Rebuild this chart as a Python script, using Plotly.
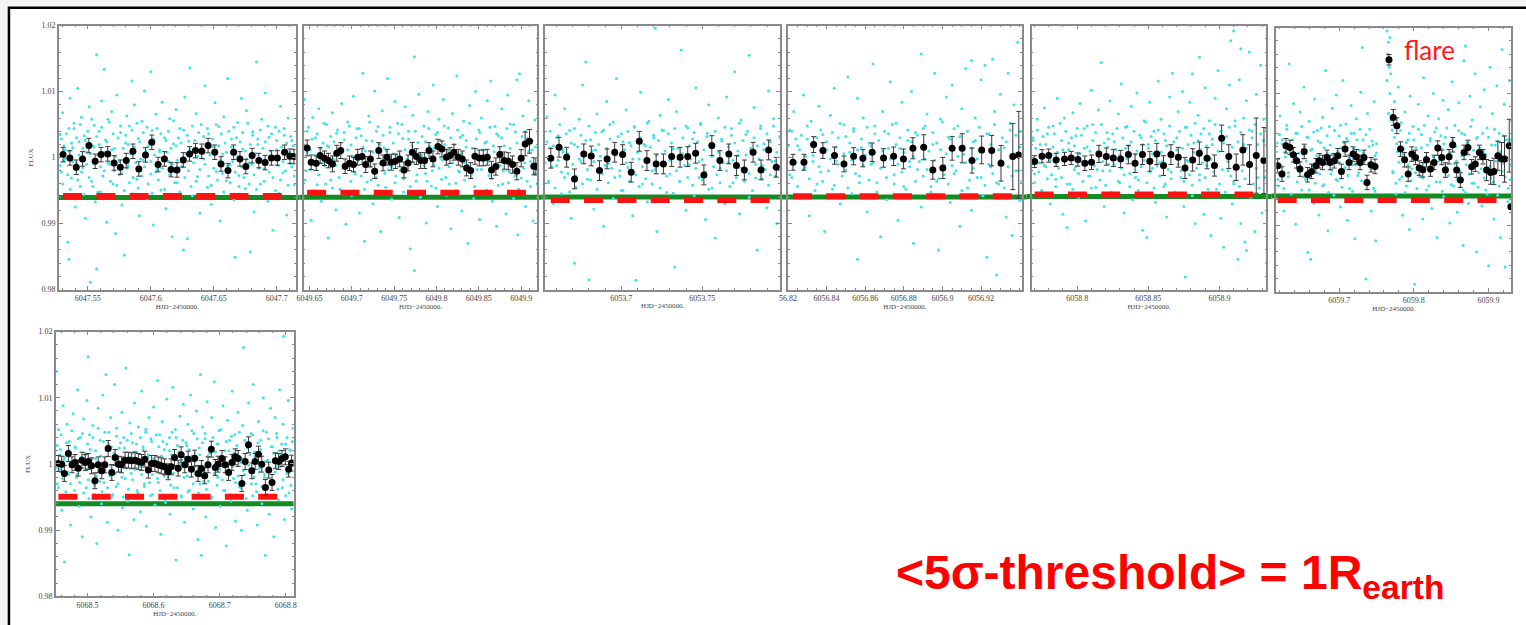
import plotly.graph_objects as go

W, H = 1526, 625

# ======================= DATA =======================
# Binned light-curve points (time HJD-2450000, relative flux, error)
P1_T = [6047.5303, 6047.5358, 6047.5408, 6047.5458, 6047.5508, 6047.5558, 6047.5605, 6047.5658, 6047.5708, 6047.5758,
        6047.5805, 6047.5858, 6047.5905, 6047.5958, 6047.6008, 6047.6058, 6047.6108, 6047.6161, 6047.6208, 6047.6258,
        6047.6308, 6047.6355, 6047.6405, 6047.6455, 6047.6508, 6047.6558, 6047.6613, 6047.6658, 6047.6708, 6047.6755,
        6047.6805, 6047.6858, 6047.6908, 6047.6958, 6047.7005, 6047.7063, 6047.7105, 6047.7137]
P1_F = [1.00045, 0.99995, 0.99854, 0.9998, 1.00182, 0.99944, 1.00045, 1.00056, 0.99919, 0.99854,
        0.99955, 1.00096, 0.99828, 1.0004, 1.00232, 0.99894, 0.9998, 0.99818, 0.99813, 0.99965,
        1.00056, 1.00106, 1.00096, 1.00182, 1.00081, 0.99904, 0.99803, 1.00081, 0.9998, 0.99864,
        1.0003, 0.99955, 0.99924, 0.99995, 0.99995, 1.00081, 1.0002, 1.00015]
P1_E = 0.0011

P2_T = [6049.6472, 6049.652, 6049.6579, 6049.6626, 6049.6677, 6049.6724, 6049.6771, 6049.6822, 6049.6869, 6049.6921,
        6049.6972, 6049.7019, 6049.707, 6049.7121, 6049.7164, 6049.7219, 6049.727, 6049.7318, 6049.7369, 6049.7416,
        6049.7467, 6049.7514, 6049.7565, 6049.7616, 6049.7664, 6049.7715, 6049.7762, 6049.7813, 6049.786, 6049.7911,
        6049.7958, 6049.8017, 6049.8064, 6049.8116, 6049.8159, 6049.8206, 6049.8257, 6049.8304, 6049.8355, 6049.8403,
        6049.8454, 6049.8505, 6049.8552, 6049.8599, 6049.865, 6049.8701, 6049.8748, 6049.88, 6049.8847, 6049.8898,
        6049.8949, 6049.9, 6049.9047, 6049.9098, 6049.9149, 6049.9173]
P2_F = [1.00146, 0.99929, 0.99914, 1.0003, 0.9999, 0.99955, 0.99904, 1.00066, 1.00106, 0.99869,
        0.99914, 0.99894, 1.00005, 1.00015, 0.99894, 0.9998, 0.99793, 1.00106, 0.99919, 1.00005,
        0.99929, 0.99944, 0.9998, 0.99813, 0.99919, 1.00081, 1.00015, 0.99955, 0.99955, 1.00106,
        0.9998, 1.00167, 1.00131, 1.00005, 1.0003, 1.00081, 1.00005, 0.9998, 0.99843, 0.99803,
        1.0002, 0.99995, 0.99995, 1.00005, 0.99813, 0.99864, 1.00045, 0.99955, 0.99944, 0.99894,
        0.99793, 0.9999, 1.00207, 1.00247, 0.99869, 0.99869]
P2_E = [0.0012, 0.0011, 0.0011, 0.0012, 0.0011, 0.0011, 0.0012, 0.0012, 0.0012, 0.0011,
        0.0011, 0.0011, 0.0012, 0.0012, 0.0012, 0.0012, 0.0011, 0.0012, 0.0012, 0.0012,
        0.0012, 0.0011, 0.0012, 0.0012, 0.0012, 0.0015, 0.0012, 0.0012, 0.0012, 0.0012,
        0.0012, 0.0011, 0.0012, 0.0012, 0.0012, 0.0012, 0.0012, 0.0012, 0.0012, 0.0012,
        0.0012, 0.0012, 0.0012, 0.0012, 0.0013, 0.0013, 0.0012, 0.0013, 0.0013, 0.0013,
        0.0013, 0.0013, 0.0018, 0.0018, 0.0013, 0.0013]

P3_T = [6053.6564, 6053.6615, 6053.6662, 6053.6711, 6053.6768, 6053.6814, 6053.6865, 6053.6912, 6053.6959, 6053.7008,
        6053.7061, 6053.7111, 6053.7158, 6053.7215, 6053.726, 6053.7311, 6053.7363, 6053.741, 6053.7459, 6053.751,
        6053.7559, 6053.7609, 6053.7664, 6053.7711, 6053.776, 6053.7814, 6053.7863, 6053.791, 6053.7957]
P3_F = [0.9999, 1.00157, 1.00005, 0.99677, 1.00056, 1.00025, 0.99803, 0.9998, 1.00081, 1.00045,
        0.99778, 1.00247, 0.99955, 0.99904, 0.99904, 1.00015, 1.00005, 1.00015, 1.00066, 0.99737,
        1.00182, 0.99955, 1.00056, 0.99879, 0.99813, 1.00081, 0.99813, 1.00116, 0.99854]
P3_E = 0.0015

P4_T = [6056.8226, 6056.8283, 6056.8333, 6056.8381, 6056.8441, 6056.849, 6056.854, 6056.8588, 6056.8636, 6056.8695,
        6056.8747, 6056.8798, 6056.8847, 6056.8903, 6056.895, 6056.9002, 6056.905, 6056.9102, 6056.9153, 6056.9203,
        6056.9255, 6056.9303, 6056.9364, 6056.9395]
P4_F = [0.99929, 0.99929, 1.00197, 1.00106, 1.0003, 0.99904, 1.0002, 0.9999, 1.00081, 0.99995,
        1.0002, 0.9998, 1.00141, 1.00157, 0.99813, 0.99843, 1.00141, 1.00141, 0.99955, 1.00116,
        1.00106, 0.99914, 1.00015, 1.0004]
P4_E = [0.0012, 0.0012, 0.0012, 0.0012, 0.0013, 0.0012, 0.0013, 0.0013, 0.0014, 0.0014,
        0.0014, 0.0015, 0.0016, 0.0019, 0.0014, 0.0016, 0.0018, 0.0022, 0.0019, 0.0021,
        0.0023, 0.0027, 0.005, 0.0066]

P5_T = [6058.7701, 6058.7753, 6058.78, 6058.7852, 6058.7911, 6058.7958, 6058.8005, 6058.8054, 6058.8101, 6058.8153,
        6058.8205, 6058.8254, 6058.8306, 6058.836, 6058.8407, 6058.8459, 6058.8511, 6058.856, 6058.8607, 6058.8659,
        6058.8711, 6058.8758, 6058.8812, 6058.8859, 6058.8913, 6058.8965, 6058.9016, 6058.9066, 6058.9118, 6058.9165,
        6058.9212, 6058.9259, 6058.9313]
P5_F = [0.99939, 1.0002, 1.0003, 0.99965, 0.9998, 0.99995, 0.9997, 0.99914, 0.99929, 1.00056,
        1.00015, 0.99995, 0.9998, 1.00045, 0.99914, 1.00045, 0.99944, 1.00056, 0.99879, 1.00045,
        1.00005, 0.99843, 0.99965, 1.00066, 0.9999, 0.99879, 1.00293, 1.00015, 0.99854, 1.00116,
        0.99894, 1.0003, 0.99955]
P5_E = [0.0009, 0.001, 0.001, 0.001, 0.001, 0.001, 0.001, 0.0011, 0.0011, 0.0013,
        0.0013, 0.0013, 0.0013, 0.0014, 0.0014, 0.0015, 0.0015, 0.0016, 0.0015, 0.0015,
        0.0015, 0.0016, 0.0017, 0.0017, 0.0016, 0.0016, 0.002, 0.0018, 0.002, 0.0023,
        0.003, 0.0057, 0.005]

P6_T = [6059.6178, 6059.6236, 6059.6289, 6059.6342, 6059.6387, 6059.6431, 6059.6476, 6059.6533, 6059.6578, 6059.6631,
        6059.6689, 6059.6733, 6059.6778, 6059.6836, 6059.688, 6059.6933, 6059.6982, 6059.7031, 6059.708, 6059.7133,
        6059.7187, 6059.7231, 6059.728, 6059.7333, 6059.7373, 6059.7427, 6059.748,
        6059.7667, 6059.7724, 6059.7773, 6059.7822, 6059.7876, 6059.7924, 6059.7973, 6059.8022, 6059.8071, 6059.812,
        6059.8169, 6059.8222, 6059.8271, 6059.832, 6059.8373, 6059.8422, 6059.8471, 6059.852, 6059.8573, 6059.8622,
        6059.8671, 6059.8724, 6059.8773, 6059.8822, 6059.8876, 6059.8924, 6059.8973, 6059.9027, 6059.9071, 6059.9124,
        6059.9173, 6059.9213, 6059.9276, 6059.9298]
P6_F = [0.99907, 0.9978, 1.0021, 1.00184, 1.00073, 0.99982, 0.99856, 1.00124, 0.9977, 0.99821,
        0.99907, 0.99982, 0.99957, 1.00033, 0.99957, 0.99982, 1.00058, 0.99821, 1.00159, 0.99957,
        1.00083, 1.00043, 0.99957, 1.00033, 0.99654, 0.99922, 0.99896,
        1.01513, 1.00639, 1.00513, 1.00159, 0.99997, 0.9978, 1.00083, 1.00033, 0.99871, 0.99846,
        0.99997, 0.99856, 0.99957, 1.00174, 1.00033, 0.99841, 1.00043, 1.00225, 0.99841, 0.99689,
        1.00109, 1.00184, 0.99891, 0.99932, 1.00109, 1.00043, 0.99841, 0.99806, 0.99821, 1.00058,
        1.00008, 1.00008, 1.0021, 0.99285]
P6_E = [0.0011, 0.0011, 0.0011, 0.0011, 0.0011, 0.0011, 0.0011, 0.0011, 0.0011, 0.0011,
        0.0011, 0.0011, 0.0011, 0.0011, 0.0011, 0.0011, 0.0011, 0.0011, 0.0011, 0.0011,
        0.0011, 0.0011, 0.0011, 0.0011, 0.0011, 0.0011, 0.0011,
        0.0008, 0.0012, 0.0012, 0.0011, 0.0011, 0.0011, 0.0011, 0.0011, 0.0011, 0.0011,
        0.0011, 0.0011, 0.0011, 0.0011, 0.0011, 0.0011, 0.0011, 0.0011, 0.0011, 0.0011,
        0.0011, 0.0011, 0.0011, 0.0011, 0.0011, 0.0011, 0.0016, 0.0018, 0.002, 0.0022,
        0.0025, 0.0035, 0.004, 0.0]

P7_T = [6068.4558, 6068.4608, 6068.4648, 6068.4709, 6068.4764, 6068.4809, 6068.4859, 6068.4915, 6068.4965, 6068.501,
        6068.506, 6068.5111, 6068.5161, 6068.5216, 6068.5261, 6068.5312, 6068.5367, 6068.5417, 6068.5467, 6068.5513,
        6068.5568, 6068.5618, 6068.5668, 6068.5719, 6068.5769, 6068.5819, 6068.5869, 6068.592, 6068.597, 6068.602,
        6068.607, 6068.6116, 6068.6166, 6068.6221, 6068.6266, 6068.6317, 6068.6372, 6068.6417, 6068.6472, 6068.6523,
        6068.6573, 6068.6623, 6068.6673, 6068.6724, 6068.6774, 6068.6824, 6068.6874, 6068.6935, 6068.6975, 6068.7035,
        6068.7085, 6068.7136, 6068.7186, 6068.7236, 6068.7281, 6068.7337, 6068.7387, 6068.7437, 6068.7487, 6068.7538,
        6068.7588, 6068.7638, 6068.7693, 6068.7744, 6068.7794, 6068.7844, 6068.7894, 6068.7945, 6068.7995, 6068.8045,
        6068.809]
P7_F = [1.00008, 0.99997, 0.99857, 1.00158, 0.99987, 1.00023, 0.99937, 1.00058, 1.00023, 1.00038,
        0.99972, 0.99746, 0.99987, 0.99897, 0.99987, 1.00234, 0.99872, 1.00098, 0.99997, 0.99987,
        1.00058, 1.00058, 1.00048, 1.00058, 1.00038, 1.00023, 1.00073, 0.99907, 1.00008, 1.00008,
        0.99987, 0.99972, 0.99957, 0.99882, 0.99957, 1.00098, 0.99937, 1.00138, 0.99987, 1.00073,
        0.99922, 1.00088, 0.99857, 0.99932, 0.99822, 0.99987, 1.00224, 0.99947, 0.99997, 1.00083,
        0.99987, 0.99872, 1.00023, 1.00108, 1.00083, 0.99706, 1.00038, 1.00289, 0.99897, 1.00038,
        1.00148, 0.99997, 0.99646, 0.99907, 0.99721, 1.00048, 1.00038, 1.00083, 1.00108, 0.99922,
        1.00013]
P7_E = 0.0012

# Unbinned photometry (cyan): (time offset in 1e-3 d from window start, flux offset in 1e-4)
CYAN_START = [6047.527, 6049.643, 6053.653, 6056.82, 6058.768, 6059.616, 6068.452]
CYAN_P1 = [(1,35),(2,-22),(3,68),(4,-5),(5,12),(6,-60),(7,-128),(8,-154),(8,44),(9,90),(10,-31),(11,15),(12,52),(13,-75),
           (14,-8),(15,105),(16,24),(17,-44),(18,61),(19,-15),(20,33),(21,-92),(22,8),(24,77),(25,-189),(26,-36),(27,18),
           (28,49),(29,-67),(30,156),(30,-169),(31,3),(32,40),(33,-52),(34,86),(36,134),(36,-20),(37,27),(38,-98),(39,58),
           (40,-10),(42,70),(43,-40),(44,14),(45,-115),(46,95),(48,-26),(49,38),(50,-72),(52,-148),(53,22),(54,63),(55,-12),
           (56,48),(58,116),(58,-55),(59,6),(60,80),(62,-33),(63,29),(64,-88),(66,55),(67,-4),(68,101),(70,-62),(71,17),
           (73,130),(73,-25),(74,41),(75,-102),(77,66),(78,-18),(80,9),(81,-49),(82,84),(84,30),(85,-77),(87,-6),(88,59),
           (90,-120),(91,21),(93,73),(94,-38),(96,44),(97,-14),(99,-140),(100,92),(102,-123),(103,25),(104,136),(106,-58),
           (107,11),(109,67),(110,-29),(112,-84),(113,50),(115,-2),(116,109),(118,-45),(119,36),(121,-71),(122,16),(124,83),
           (125,-21),(127,47),(128,-96),(130,5),(131,62),(133,-35),(134,120),(136,-11),(137,28),(139,-64),(140,-151),(142,53),
           (143,-27),(145,90),(146,13),(148,-47),(149,71),(151,-8),(152,-143),(154,39),(155,-82),(157,145),(158,20),(160,-40),
           (161,58),(163,-17),(164,98),(166,-66),(167,31),(169,-3),(170,-110),(172,46),(173,12),(175,-54),(176,78),(178,-23),
           (179,34),(181,-87),(182,60),(184,-9),(185,26),(187,-41)]
CYAN_P1_CORE = [(1,-12),(2,28),(3,-40),(4,18),(5,-2),(6,36),(7,-26),(8,10),(9,-48),(10,22),(11,-6),(12,44),(13,-18),(14,30),
           (15,-34),(16,4),(17,50),(18,-22),(19,14),(20,-56),(21,26),(22,-10),(23,40),(24,-30),(25,6),(26,58),(27,-44),(28,16),
           (29,-4),(30,32),(31,-52),(32,20),(33,-14),(34,46),(35,-28),(36,8),(37,-60),(38,24),(39,-8),(40,54),(41,-36),(42,12),
           (43,36),(44,-20),(45,2),(46,-42),(47,30),(48,-6),(49,48),(50,-24),(51,14),(52,-50),(53,34),(54,-16),(55,20),(56,-38),
           (57,6),(58,42),(59,-30),(60,16),(61,-8),(62,52),(63,-46),(64,24),(65,-2),(66,-28),(67,38),(68,-14),(69,10),(70,46),
           (71,-40),(72,22),(73,-6),(74,-54),(75,28),(76,4),(77,-22),(78,44),(79,-34),(80,12),(81,36),(82,-16),(83,-2),(84,-48),
           (85,26),(86,8),(87,40),(88,-26),(89,14),(90,-10),(91,56),(92,-38),(93,18),(94,-4),(95,30),(96,-52),(97,22),(98,-14),
           (99,42),(100,-30),(101,6),(102,34),(103,-20),(104,12),(105,-44),(106,48),(107,-8),(108,26),(109,-36),(110,2),(111,38),
           (112,-18),(113,14),(114,-56),(115,32),(116,-10),(117,20),(118,44),(119,-28),(120,4),(121,-42),(122,28),(123,-16),
           (124,10),(125,50),(126,-34),(127,18),(128,-4),(129,36),(130,-24),(131,-52),(132,22),(133,8),(134,-12),(135,40),
           (136,-38),(137,16),(138,-6),(139,46),(140,-22),(141,30),(142,2),(143,-44),(144,24),(145,-14),(146,38),(147,-30),
           (148,10),(149,-2),(150,52),(151,-40),(152,20),(153,-10),(154,34),(155,-26),(156,6),(157,-48),(158,28),(159,-16),
           (160,42),(161,-4),(162,14),(163,-36),(164,24),(165,-8),(166,48),(167,-22),(168,10),(169,36),(170,-30),(171,2),
           (172,-50),(173,26),(174,-12),(175,40),(176,-34),(177,16),(178,-6),(179,44),(180,-20),(181,22),(182,-42),(183,8),
           (184,32),(185,-14),(186,18),(187,-28)]
CYAN_P2 = [(1,88),(3,-20),(4,40),(6,-55),(8,12),(9,-95),(11,61),(13,-8),(14,30),(16,-41),(18,74),(20,5),(21,-66),(23,22),
           (25,-12),(27,50),(29,-122),(30,16),(32,-34),(34,68),(36,-3),(38,-79),(39,37),(41,9),(43,-48),(45,82),(47,-16),
           (48,27),(50,-101),(52,54),(54,-6),(56,19),(57,-58),(59,93),(61,-25),(63,44),(65,-2),(66,-84),(68,33),(70,128),
           (72,-127),(73,10),(75,-37),(77,63),(79,-14),(81,25),(82,-70),(84,101),(86,-30),(88,47),(90,-9),(91,-112),(93,71),
           (95,15),(97,-45),(99,120),(100,-19),(102,38),(104,-63),(106,6),(108,85),(109,-28),(111,52),(113,-91),(115,-4),
           (117,29),(118,-52),(120,77),(122,-17),(124,40),(126,-138),(127,11),(129,64),(131,153),(131,-171),(133,-36),(135,23),
           (136,96),(138,-60),(140,3),(142,48),(144,-24),(145,-99),(147,70),(149,17),(151,-43),(153,110),(154,-11),(156,35),
           (158,-74),(160,58),(162,-1),(163,-33),(165,88),(167,20),(169,-57),(171,45),(172,-14),(174,-108),(176,67),(178,8),
           (180,-39),(181,124),(183,-20),(185,31),(187,-81),(189,55),(190,-7),(192,26),(194,-130),(196,79),(198,-30),(199,14),
           (201,-62),(203,100),(205,-18),(207,42),(208,-94),(210,60),(212,-5),(214,22),(216,-49),(217,86),(219,-27),(221,116),
           (223,-66),(225,9),(226,47),(228,-104),(230,33),(232,-12),(234,74),(235,-40),(237,18),(239,-85),(241,95),(243,-22),
           (244,51),(246,-3),(248,-62),(250,39),(252,118),(253,-117),(255,127),(257,-31),(259,63),(261,-8),(262,-74),(264,29),
           (266,86),(268,-44),(270,12),(271,-96),(273,57),(275,-15)]
CYAN_P2_CORE = [(0,20),(2,-34),(4,8),(6,46),(8,-18),(10,28),(12,-50),(14,4),(16,36),(18,-26),(20,14),(22,-8),(24,52),(26,-40),
           (28,18),(30,-2),(32,32),(34,-46),(36,24),(38,-12),(40,42),(42,-30),(44,6),(46,-56),(48,38),(50,-16),(52,12),(54,48),
           (56,-36),(58,2),(60,-22),(62,30),(64,-4),(66,44),(68,-28),(70,16),(72,-48),(74,26),(76,-10),(78,54),(80,-34),(82,8),
           (84,-18),(86,40),(88,-42),(90,20),(92,-6),(94,34),(96,-24),(98,10),(100,-52),(102,46),(104,-14),(106,22),(108,-38),
           (110,4),(112,36),(114,-20),(116,50),(118,-32),(120,12),(122,-2),(124,28),(126,-44),(128,18),(130,-8),(132,40),
           (134,-26),(136,6),(138,-54),(140,32),(142,-12),(144,24),(146,-36),(148,44),(150,2),(152,-20),(154,14),(156,-46),
           (158,38),(160,-16),(162,26),(164,-4),(166,48),(168,-30),(170,10),(172,-40),(174,30),(176,-8),(178,20),(180,-50),
           (182,42),(184,-22),(186,6),(188,34),(190,-34),(192,16),(194,-12),(196,52),(198,-26),(200,4),(202,-44),(204,28),
           (206,-2),(208,38),(210,-18),(212,12),(214,-56),(216,24),(218,-6),(220,46),(222,-32),(224,18),(226,-14),(228,36),
           (230,-42),(232,8),(234,30),(236,-20),(238,-4),(240,44),(242,-38),(244,14),(246,-10),(248,50),(250,-28),(252,22),
           (254,-48),(256,2),(258,32),(260,-16),(262,40),(264,-36),(266,10),(268,-6),(270,26),(272,-24),(274,16),(276,-40)]
CYAN_P3 = [(1,62),(2,-38),(3,15),(5,-70),(6,95),(7,-12),(8,33),(10,-55),(11,8),(12,74),(14,-24),(15,41),(16,-92),(18,-160),
           (18,20),(19,-45),(21,58),(22,-6),(23,110),(25,145),(26,-33),(27,-185),(28,27),(30,-78),(31,12),(32,66),(34,-18),
           (35,39),(36,-104),(38,85),(39,-9),(40,50),(42,-62),(43,4),(44,120),(46,-28),(47,36),(48,-50),(50,72),(51,-15),
           (52,23),(54,-88),(55,47),(56,-186),(58,-2),(59,99),(60,-40),(62,18),(63,-67),(64,55),(66,-20),(67,30),(68,196),
           (69,-112),(71,64),(72,-7),(73,41),(75,-53),(76,88),(77,-25),(79,13),(80,-166),(81,70),(83,-36),(84,163),(85,6),
           (87,-80),(88,45),(89,-11),(91,28),(92,-58),(93,106),(95,-30),(96,52),(97,-3),(99,-94),(100,37),(101,80),(103,-46),
           (104,16),(105,-122),(107,60),(108,-16),(109,25),(111,-70),(112,92),(113,-8),(115,44),(116,-38),(117,130),(119,3),
           (120,-85),(121,57),(123,-22),(124,35),(126,155),(126,-60),(127,10),(129,76),(130,-31),(131,-140),(133,48),(134,-12),
           (135,21),(137,-76),(138,101),(139,-26),(141,59),(142,-5),(143,-100),(145,30)]
CYAN_P3_CORE = [(0,-8),(1,24),(2,-36),(3,40),(4,-14),(5,18),(6,-46),(7,30),(8,-4),(9,50),(10,-22),(11,12),(12,-30),(13,36),
           (14,6),(15,-52),(16,22),(17,-10),(18,44),(19,-28),(20,16),(21,-2),(22,34),(23,-40),(24,8),(25,26),(26,-18),(27,48),
           (28,-34),(29,10),(30,-6),(31,38),(32,-48),(33,20),(34,2),(35,-24),(36,42),(37,-12),(38,14),(39,-38),(40,28),(41,-16),
           (42,54),(43,-30),(44,4),(45,32),(46,-20),(47,-50),(48,24),(49,12),(50,-8),(51,40),(52,-36),(53,18),(54,-2),(55,46),
           (56,-26),(57,8),(58,-44),(59,30),(60,-14),(61,20),(62,-32),(63,52),(64,-6),(65,16),(66,-40),(67,34),(68,-18),(69,4),
           (70,26),(71,-46),(72,42),(73,-10),(74,10),(75,-28),(76,36),(77,-4),(78,22),(79,-54),(80,44),(81,-20),(82,14),(83,-36),
           (84,6),(85,30),(86,-12),(87,48),(88,-30),(89,18),(90,-2),(91,-42),(92,38),(93,-16),(94,24),(95,-6),(96,50),(97,-34),
           (98,12),(99,-22),(100,32),(101,-48),(102,20),(103,2),(104,-14),(105,40),(106,-26),(107,8),(108,-38),(109,28),(110,-8),
           (111,46),(112,-20),(113,16),(114,-44),(115,34),(116,-4),(117,22),(118,-30),(119,10),(120,52),(121,-16),(122,26),
           (123,-36),(124,4),(125,40),(126,-24),(127,14),(128,-50),(129,30),(130,-10),(131,18),(132,-2),(133,44),(134,-32),
           (135,12),(136,-18),(137,36),(138,-42),(139,24),(140,-6),(141,48),(142,-28),(143,8),(144,-14),(145,32)]
CYAN_P4 = [(1,42),(2,-30),(3,70),(4,-8),(5,18),(7,-60),(8,95),(9,-15),(10,28),(11,-88),(12,55),(13,3),(15,-40),(16,78),
           (17,-22),(18,35),(19,-112),(20,12),(22,64),(23,-48),(24,105),(25,-5),(26,30),(27,-70),(29,50),(30,-19),(31,122),
           (32,8),(33,-55),(34,40),(36,-154),(36,90),(37,-28),(38,15),(39,60),(41,-82),(42,22),(43,-10),(44,142),(45,48),
           (46,-38),(48,-120),(49,70),(50,2),(51,-64),(52,36),(53,115),(55,-26),(56,52),(57,-95),(58,14),(59,84),(60,-44),
           (62,26),(63,-6),(64,100),(65,-130),(66,38),(67,-18),(69,157),(69,-75),(70,44),(71,-2),(72,66),(74,-52),(75,20),
           (76,128),(77,-36),(78,-140),(79,58),(81,-12),(82,92),(83,31),(84,-68),(85,110),(86,-24),(88,48),(89,-104),(90,74),
           (91,5),(92,135),(93,-46),(95,147),(95,-80),(96,24),(97,60),(98,-30),(100,118),(101,-58),(102,140),(103,-151),
           (104,36),(105,-14),(106,149),(107,70),(108,-178),(109,-40),(110,96),(112,15),(113,-90),(114,128),(115,52),
           (116,-118),(117,80),(118,-20),(119,175),(120,40),(120,-65)]
CYAN_P4_CORE = [(0,18),(1,-26),(2,40),(3,-8),(4,28),(5,-44),(6,12),(7,34),(8,-18),(9,2),(10,48),(11,-32),(12,20),(13,-6),
           (14,-50),(15,30),(16,-14),(17,42),(18,-36),(19,8),(20,24),(21,-20),(22,-2),(23,38),(24,-42),(25,16),(26,-10),(27,52),
           (28,-28),(29,6),(30,32),(31,-46),(32,22),(33,-4),(34,44),(35,-24),(36,12),(37,-38),(38,28),(39,-12),(40,4),(41,46),
           (42,-34),(43,18),(44,-8),(45,36),(46,-52),(47,26),(48,-16),(49,10),(50,40),(51,-30),(52,14),(53,-2),(54,50),(55,-40),
           (56,20),(57,-10),(58,30),(59,-22),(60,8),(61,-48),(62,42),(63,-14),(64,24),(65,2),(66,-36),(67,34),(68,-6),(69,16),
           (70,-28),(71,48),(72,-18),(73,10),(74,-44),(75,38),(76,-4),(77,22),(78,-32),(79,12),(80,54),(81,-26),(82,6),(83,-40),
           (84,28),(85,-12),(86,44),(87,-20),(88,2),(89,32),(90,-50),(91,18),(92,-8),(93,40),(94,-34),(95,14),(96,-16),(97,26),
           (98,-2),(99,46),(100,-30),(101,8),(102,-42),(103,36),(104,-10),(105,20),(106,-24),(107,50),(108,-38),(109,12),
           (110,-4),(111,30),(112,-46),(113,24),(114,-14),(115,42),(116,-28),(117,6),(118,34),(119,-20),(120,16),(121,-36)]
CYAN_P5 = [(1,30),(2,-25),(4,58),(5,-8),(6,20),(7,-52),(9,75),(10,-14),(11,36),(13,-70),(14,5),(15,48),(17,-33),(18,90),
           (19,-3),(21,26),(22,-86),(23,60),(25,-106),(26,12),(27,-40),(29,68),(30,-18),(31,33),(33,-60),(34,82),(35,-6),
           (37,44),(38,-96),(39,16),(41,-28),(42,102),(43,50),(45,-45),(46,9),(47,72),(49,144),(50,-20),(51,-74),(53,38),
           (54,-10),(55,86),(57,-56),(58,24),(59,-2),(61,66),(62,-38),(63,112),(65,-84),(66,14),(67,47),(69,-24),(70,78),
           (71,-64),(73,5),(74,98),(75,-34),(77,30),(78,-110),(79,56),(81,-121),(82,20),(83,84),(85,-16),(86,40),(87,-68),
           (89,116),(90,-8),(91,58),(93,-44),(94,26),(95,-90),(97,92),(98,-22),(99,128),(101,-52),(102,12),(103,70),(105,-30),
           (106,100),(107,-74),(108,-181),(109,46),(110,-6),(111,84),(113,127),(113,-58),(114,22),(115,-100),(117,64),(118,152),
           (118,-26),(119,36),(121,-86),(122,106),(123,-12),(125,56),(126,-118),(127,20),(129,90),(130,-48),(131,132),(133,-92),
           (134,30),(135,-136),(137,74),(138,-20),(139,110),(140,177),(141,-70),(142,192),(142,-40),(143,48),(145,-154),
           (146,118),(147,165),(147,-100),(149,20),(150,-128),(151,86),(151,-141),(153,160),(154,-60),(155,40),(157,-112),
           (158,96),(159,-30),(161,140),(162,-84),(163,58),(165,-20)]
CYAN_P5_CORE = [(0,-10),(1,26),(2,-38),(3,14),(4,42),(5,-22),(6,4),(7,-50),(8,32),(9,-12),(10,20),(11,-32),(12,46),(13,-4),
           (14,-26),(15,16),(16,36),(17,-44),(18,8),(19,-16),(20,52),(21,-30),(22,12),(23,-6),(24,40),(25,-40),(26,22),(27,-2),
           (28,30),(29,-48),(30,18),(31,-14),(32,44),(33,-24),(34,6),(35,34),(36,-36),(37,14),(38,-8),(39,48),(40,-28),(41,10),
           (42,-46),(43,26),(44,-12),(45,38),(46,-18),(47,2),(48,-34),(49,50),(50,-6),(51,22),(52,-42),(53,16),(54,28),(55,-20),
           (56,-52),(57,36),(58,-10),(59,12),(60,44),(61,-36),(62,4),(63,-16),(64,30),(65,-26),(66,46),(67,-2),(68,18),(69,-44),
           (70,24),(71,-8),(72,40),(73,-30),(74,10),(75,-50),(76,34),(77,-14),(78,20),(79,-4),(80,54),(81,-38),(82,14),(83,-22),
           (84,32),(85,6),(86,-46),(87,26),(88,-12),(89,42),(90,-28),(91,8),(92,-6),(93,36),(94,-40),(95,18),(96,-18),(97,48),
           (98,-32),(99,2),(100,24),(101,-54),(102,30),(103,-10),(104,40),(105,-20),(106,14),(107,-36),(108,46),(109,-4),
           (110,20),(111,-26),(112,34),(113,-42),(114,8),(115,52),(116,-16),(117,26),(118,-34),(119,12),(120,-8),(121,44),
           (122,-30),(123,18),(124,-48),(125,36),(126,-2),(127,28),(128,-22),(129,50),(130,-12),(131,10),(132,-40),(133,40),
           (134,-18),(135,22),(136,-52),(137,32),(138,-6),(139,46),(140,-28),(141,16),(142,-36),(143,56),(144,-10),(145,24),
           (146,-44),(147,38),(148,-20),(149,60),(150,-32),(151,14),(152,-56),(153,42),(154,-8),(155,30),(156,-40),(157,50),
           (158,-16),(159,20),(160,-46),(161,36),(162,-2),(163,26),(164,-30),(165,44)]
CYAN_P6 = [(1,25),(3,-40),(5,66),(7,-10),(8,30),(10,-78),(12,12),(14,52),(16,-26),(17,145),(19,-60),(21,20),(23,85),(25,-4),
           (26,-98),(28,40),(30,-18),(32,72),(34,-46),(35,8),(37,110),(39,-30),(41,34),(42,-141),(44,58),(46,-151),(48,16),
           (50,-66),(51,92),(53,-12),(55,44),(57,-84),(59,26),(60,-2),(62,64),(64,-38),(66,135),(68,10),(69,-108),(71,50),
           (73,-22),(75,78),(77,-54),(78,4),(80,98),(82,-32),(84,36),(86,-72),(87,18),(89,120),(91,-14),(93,54),(95,-92),
           (96,28),(98,-44),(100,82),(102,-8),(104,40),(105,-120),(107,62),(109,-24),(111,14),(113,102),(114,-60),(115,170),
           (116,30),(118,-36),(120,-181),(122,70),(123,-6),(125,46),(127,-78),(129,22),(131,88),(132,-48),(133,-123),(134,10),
           (148,195),(148,120),(149,160),(150,178),(150,70),(151,140),(152,100),(152,185),(153,60),(153,130),
           (155,45),(156,-20),(158,88),(160,-52),(161,24),(163,110),(165,-30),(167,56),(169,-84),(170,8),(172,72),(174,-40),
           (176,30),(178,-106),(179,96),(181,-14),(183,50),(185,-189),(187,18),(188,-64),(190,84),(192,-26),(194,38),(196,-90),
           (197,124),(199,4),(201,-46),(203,66),(205,-18),(206,28),(208,-74),(210,100),(212,-8),(214,48),(215,-118),(217,62),
           (219,-34),(221,16),(223,90),(224,-56),(226,34),(228,-12),(230,76),(232,-96),(233,20),(235,118),(237,-40),(239,52),
           (241,-2),(242,-80),(244,86),(246,-24),(248,40),(250,-130),(251,150),(253,172),(253,-50),(255,26),(257,-66),(259,96),
           (260,-10),(262,60),(264,-36),(266,130),(268,-140),(269,34),(271,-20),(273,80),(275,-70),(277,12),(278,106),(280,-46),
           (282,48),(284,-161),(286,140),(287,-28),(289,70),(291,-90),(293,22),(295,112),(296,-54),(298,40),(300,-118),
           (302,167),(304,-6),(305,84),(306,-163),(308,30),(310,-64),(312,120),(313,-30)]
CYAN_P6_CORE = [(0,12),(2,-30),(4,38),(6,-8),(8,24),(10,-44),(12,4),(14,46),(16,-20),(18,16),(20,-52),(22,30),(24,-4),(26,40),
           (28,-34),(30,10),(32,-14),(34,50),(36,-26),(38,20),(40,-2),(42,34),(44,-46),(46,14),(48,-10),(50,42),(52,-36),(54,6),
           (56,28),(58,-22),(60,48),(62,-40),(64,18),(66,-6),(68,36),(70,-50),(72,22),(74,-16),(76,8),(78,44),(80,-30),(82,12),
           (84,-4),(86,52),(88,-42),(90,26),(92,-12),(94,32),(96,-24),(98,2),(100,40),(102,-48),(104,16),(106,-8),(108,30),
           (110,-20),(112,46),(114,-32),(116,10),(118,-2),(120,38),(122,-38),(124,20),(126,-14),(128,28),(130,-44),(132,6),
           (134,24),(156,-18),(158,34),(160,-36),(162,12),(164,-4),(166,44),(168,-26),(170,16),(172,-50),(174,26),(176,-8),
           (178,40),(180,-32),(182,8),(184,30),(186,-20),(188,-44),(190,46),(192,-10),(194,18),(196,-28),(198,52),(200,-6),
           (202,22),(204,-40),(206,32),(208,-16),(210,4),(212,42),(214,-34),(216,14),(218,-2),(220,36),(222,-48),(224,24),
           (226,-12),(228,48),(230,-24),(232,10),(234,-38),(236,30),(238,-6),(240,20),(242,-30),(244,44),(246,-18),(248,6),
           (250,-46),(252,38),(254,-8),(256,26),(258,-22),(260,50),(262,-36),(264,14),(266,-4),(268,32),(270,-42),(272,18),
           (274,-14),(276,40),(278,-28),(280,8),(282,-52),(284,34),(286,-10),(288,22),(290,-34),(292,46),(294,-2),(296,28),
           (298,-40),(300,12),(302,-18),(304,36),(306,-26),(308,4),(310,-44),(312,30),(314,-8)]
CYAN_P7 = [(0,140),(2,-30),(4,52),(6,-8),(7,22),(9,-70),(11,88),(13,-148),(13,10),(15,-42),(17,60),(19,-16),(20,34),(22,-92),
           (24,4),(26,76),(28,-52),(29,26),(31,-20),(33,112),(35,-64),(37,40),(38,-6),(40,-110),(42,68),(44,14),(46,-36),
           (47,96),(49,162),(49,-24),(51,44),(53,-80),(55,8),(56,58),(58,-46),(60,20),(62,-120),(64,84),(65,-12),(67,36),
           (69,-60),(71,104),(73,-28),(74,48),(76,135),(76,-2),(78,-88),(80,30),(82,-18),(83,70),(85,-50),(87,12),(89,120),
           (91,-34),(92,54),(94,-100),(96,24),(98,-10),(100,78),(101,-66),(103,40),(105,-22),(106,145),(107,6),(109,-56),
           (111,-137),(112,62),(114,-14),(116,32),(118,-84),(119,92),(121,18),(123,-40),(125,56),(127,-4),(128,-72),(130,110),
           (132,26),(134,-30),(136,48),(137,-94),(139,10),(141,70),(143,-48),(145,34),(146,-16),(148,86),(150,-62),(152,4),
           (154,126),(155,-28),(157,44),(159,-106),(161,64),(163,-8),(164,22),(166,-58),(168,98),(170,-20),(172,40),(173,-76),
           (175,14),(177,116),(179,-36),(181,52),(182,-145),(184,28),(186,-10),(188,72),(190,-50),(191,6),(193,90),(195,-88),
           (197,32),(199,-18),(200,60),(202,-40),(204,104),(206,12),(208,-68),(209,46),(211,-4),(213,80),(215,-114),(217,24),
           (218,-30),(219,135),(220,-138),(222,56),(224,-12),(226,38),(227,-80),(229,94),(231,-26),(233,16),(235,-52),(236,70),
           (238,-6),(240,124),(242,-96),(244,30),(245,-20),(247,50),(249,-64),(251,8),(253,88),(254,-40),(256,20),(258,-124),
           (260,66),(262,-10),(263,36),(265,-56),(267,110),(269,-22),(271,44),(272,-86),(274,14),(276,78),(278,-34),(280,2),
           (281,-100),(283,58),(284,176),(286,-16),(288,30),(290,-70),(292,92),(294,-8),(296,46),(298,-48),(299,120),(301,18),
           (303,-30),(305,-92),(307,64),(308,-12),(310,36),(312,-60),(314,100),(316,-20),(317,-138),(319,48),(321,6),(323,-76),
           (325,84),(326,-28),(328,26),(330,-110),(332,70),(334,-4),(335,40),(337,-54),(339,112),(341,14),(343,-36),(344,60),
           (345,193),(346,-84),(348,30),(350,-14),(352,96),(353,-44),(355,20),(357,-68),(359,54)]
CYAN_P7_CORE = [(0,-6),(2,28),(4,-36),(6,14),(8,44),(10,-22),(12,6),(14,-48),(16,32),(18,-12),(20,20),(22,-30),(24,50),(26,-2),
           (28,-40),(30,24),(32,-16),(34,38),(36,-28),(38,10),(40,46),(42,-44),(44,16),(46,-8),(48,30),(50,-52),(52,22),(54,-4),
           (56,40),(58,-32),(60,8),(62,-18),(64,54),(66,-26),(68,12),(70,-42),(72,34),(74,-10),(76,20),(78,-36),(80,48),(82,-2),
           (84,26),(86,-46),(88,16),(90,-14),(92,42),(94,-30),(96,4),(98,32),(100,-20),(102,-50),(104,24),(106,-6),(108,36),
           (110,-38),(112,10),(114,46),(116,-24),(118,18),(120,-8),(122,30),(124,-44),(126,2),(128,40),(130,-16),(132,22),
           (134,-34),(136,52),(138,-12),(140,14),(142,-28),(144,38),(146,-46),(148,8),(150,-4),(152,44),(154,-22),(156,26),
           (158,-40),(160,12),(162,34),(164,-18),(166,-54),(168,30),(170,-8),(172,20),(174,-32),(176,48),(178,-14),(180,6),
           (182,40),(184,-36),(186,18),(188,-2),(190,-48),(192,36),(194,-20),(196,10),(198,28),(200,-42),(202,22),(204,-10),
           (206,50),(208,-30),(210,4),(212,-16),(214,38),(216,-44),(218,14),(220,-6),(222,32),(224,-26),(226,46),(228,-38),
           (230,12),(232,-2),(234,24),(236,-50),(238,40),(240,-14),(242,18),(244,-32),(246,30),(248,-8),(250,52),(252,-24),
           (254,6),(256,-40),(258,34),(260,-12),(262,20),(264,-46),(266,42),(268,-4),(270,16),(272,-28),(274,28),(276,-18),
           (278,48),(280,-36),(282,8),(284,-10),(286,36),(288,-52),(290,24),(292,-2),(294,14),(296,-30),(298,44),(300,-20),
           (302,10),(304,-42),(306,32),(308,-6),(310,22),(312,-34),(314,50),(316,-16),(318,4),(320,-46),(322,38),(324,-8),
           (326,26),(328,-28),(330,16),(332,-12),(334,46),(336,-38),(338,20),(340,-4),(342,30),(344,-24),(346,10),(348,-48),
           (350,40),(352,-14),(354,22),(356,-32),(358,34),(360,-2)]

# Detection thresholds per window (relative flux)
GREEN_LEVEL = [0.99394, 0.99398, 0.99402, 0.99402, 0.99412, 0.99447, 0.99399]   # solid green
RED_LEVEL = [0.99417, 0.99467, 0.99356, 0.99414, 0.99442, 0.99386, 0.99505]     # dashed red

# Axes
X_RANGE = [(6047.527, 6047.715), (6049.643, 6049.919), (6053.653, 6053.798), (6056.82, 6056.941),
           (6058.768, 6058.933), (6059.616, 6059.93), (6068.452, 6068.812)]
X_TICKS = [[6047.55, 6047.6, 6047.65, 6047.7],
           [6049.65, 6049.7, 6049.75, 6049.8, 6049.85, 6049.9],
           [6053.7, 6053.75],
           [6056.82, 6056.84, 6056.86, 6056.88, 6056.9, 6056.92],
           [6058.8, 6058.85, 6058.9],
           [6059.7, 6059.8, 6059.9],
           [6068.5, 6068.6, 6068.7, 6068.8]]
X_TICKTEXT = [["6047.55", "6047.6", "6047.65", "6047.7"],
              ["6049.65", "6049.7", "6049.75", "6049.8", "6049.85", "6049.9"],
              ["6053.7", "6053.75"],
              ["56.82", "6056.84", "6056.86", "6056.88", "6056.9", "6056.92"],
              ["6058.8", "6058.85", "6058.9"],
              ["6059.7", "6059.8", "6059.9"],
              ["6068.5", "6068.6", "6068.7", "6068.8"]]
X_MINOR = [0.01, 0.01, 0.01, 0.005, 0.01, 0.02, 0.02]
Y_RANGE = (0.98, 1.02)
Y_TICKS = [0.98, 0.99, 1.0, 1.01, 1.02]
Y_TICKTEXT = ["0.98", "0.99", "1", "1.01", "1.02"]
X_TITLE = "HJD\u22122450000."
Y_TITLE = "FLUX"
FLARE_LABEL = "flare"
MAIN_LABEL = "<b>&lt;5\u03c3-threshold&gt; = 1R<sub>earth</sub></b>"

# ======================= LAYOUT (target pixel boxes on the picture) =======================
BOX = [(58, 295, 25, 289), (303, 537, 25, 289), (545, 780, 25, 289), (788, 1022, 25, 289),
       (1032, 1267, 25, 289), (1277, 1512, 27, 291), (55, 293, 331, 596)]
GREEN_SPAN = [(58, 299), (299, 541), (541, 784), (784, 1027), (1027, 1272), (1272, 1512), (55, 293)]

# the captured picture is slightly offset/scaled relative to the page; compensate
AX, BX = 0.9934, 8.05
AY, BY = 0.986, 3.35


def fx(px):   # target picture x (px) -> paper fraction
    return ((px - BX) / AX) / W


def fy(py):   # target picture y (px, from top) -> paper fraction
    return 1 - ((py - BY) / AY) / H


panels = [
    dict(t=P1_T, f=P1_F, e=P1_E, cyan=CYAN_P1 + CYAN_P1_CORE),
    dict(t=P2_T, f=P2_F, e=P2_E, cyan=CYAN_P2 + CYAN_P2_CORE),
    dict(t=P3_T, f=P3_F, e=P3_E, cyan=CYAN_P3 + CYAN_P3_CORE),
    dict(t=P4_T, f=P4_F, e=P4_E, cyan=CYAN_P4 + CYAN_P4_CORE),
    dict(t=P5_T, f=P5_F, e=P5_E, cyan=CYAN_P5 + CYAN_P5_CORE),
    dict(t=P6_T, f=P6_F, e=P6_E, cyan=CYAN_P6 + CYAN_P6_CORE),
    dict(t=P7_T, f=P7_F, e=P7_E, cyan=CYAN_P7 + CYAN_P7_CORE),
]

fig = go.Figure()
shapes = [dict(type="rect", xref="paper", yref="paper", x0=fx(8), x1=1.2, y0=-0.2, y1=fy(7),
               line=dict(color="black", width=2.5), fillcolor="white", layer="below")]
layout_axes = {}
tick_font = dict(family="Liberation Serif, DejaVu Serif, serif", size=8, color="#444444")
title_font = dict(family="Liberation Serif, DejaVu Serif, serif", size=7, color="#444444")

for i, p in enumerate(panels):
    n = i + 1
    sfx = "" if n == 1 else str(n)
    xa, ya = "x" + sfx, "y" + sfx
    base = CYAN_START[i]

    fig.add_trace(go.Scatter(
        x=[base + dt * 1e-3 for dt, _ in p["cyan"]],
        y=[1 + df * 1e-4 for _, df in p["cyan"]],
        mode="markers", marker=dict(size=3.0, color="#3fe3ea"),
        xaxis=xa, yaxis=ya, hoverinfo="skip", showlegend=False))

    fig.add_trace(go.Scatter(
        x=[p["t"][0], p["t"][-1]], y=[RED_LEVEL[i], RED_LEVEL[i]],
        mode="lines", line=dict(color="#ff1212", width=6, dash="19px,14.3px"),
        xaxis=xa, yaxis=ya, hoverinfo="skip", showlegend=False))

    if isinstance(p["e"], list):
        err = dict(type="data", array=p["e"], visible=True, color="#3a3a3a", thickness=1, width=2.5)
    else:
        err = dict(type="constant", value=p["e"], visible=True, color="#3a3a3a", thickness=1, width=2.5)
    fig.add_trace(go.Scatter(
        x=p["t"], y=p["f"], mode="markers", marker=dict(size=7, color="black"),
        error_y=err, xaxis=xa, yaxis=ya, hoverinfo="skip", showlegend=False))

    gx0, gx1 = GREEN_SPAN[i]
    shapes.append(dict(type="line", xref="paper", yref=ya, x0=fx(gx0), x1=fx(gx1),
                       y0=GREEN_LEVEL[i], y1=GREEN_LEVEL[i],
                       line=dict(color="#148a22", width=5), layer="below"))

    x0, x1, y0, y1 = BOX[i]
    show_y = n in (1, 7)
    layout_axes["xaxis" + sfx] = dict(
        domain=[fx(x0), fx(x1)], range=list(X_RANGE[i]), anchor=ya,
        showline=True, mirror="ticks", linecolor="#8a8a8a", linewidth=1.5,
        ticks="inside", ticklen=4, tickcolor="#8a8a8a", tickwidth=1,
        tickmode="array", tickvals=X_TICKS[i], ticktext=X_TICKTEXT[i], tickfont=tick_font,
        minor=dict(ticks="inside", ticklen=2, tickcolor="#8a8a8a", tickmode="linear",
                   tick0=X_TICKS[i][0], dtick=X_MINOR[i], showgrid=False),
        showgrid=False, zeroline=False,
        title=dict(text=X_TITLE, font=title_font, standoff=1))
    yax = dict(
        domain=[fy(y1), fy(y0)], range=list(Y_RANGE), anchor=xa,
        showline=True, mirror="ticks", linecolor="#8a8a8a", linewidth=1.5,
        ticks="inside", ticklen=4, tickcolor="#8a8a8a", tickwidth=1,
        tickmode="array", tickvals=Y_TICKS, ticktext=Y_TICKTEXT, tickfont=tick_font,
        showticklabels=show_y,
        minor=dict(ticks="inside", ticklen=2, tickcolor="#8a8a8a", tickmode="linear",
                   tick0=Y_RANGE[0], dtick=0.002, showgrid=False),
        showgrid=False, zeroline=False)
    if show_y:
        yax["title"] = dict(text=Y_TITLE, font=title_font, standoff=7)
    layout_axes["yaxis" + sfx] = yax

annotations = [
    dict(text=FLARE_LABEL, xref="paper", yref="paper", x=fx(1403), y=fy(49),
         xanchor="left", yanchor="middle", showarrow=False,
         font=dict(family="Lato, Open Sans, sans-serif", size=26, color="#ff1a1a")),
    dict(text=MAIN_LABEL, xref="paper", yref="paper", x=fx(894), y=fy(576),
         xanchor="left", yanchor="middle", showarrow=False,
         font=dict(family="Liberation Sans, Arial, sans-serif", size=48, color="#ff0000")),
]

fig.update_layout(
    width=W, height=H, margin=dict(l=0, r=0, t=0, b=0),
    paper_bgcolor="#f4f4f4", plot_bgcolor="white", showlegend=False,
    shapes=shapes, annotations=annotations, **layout_axes)

POST = ("document.documentElement.style.margin='0';document.documentElement.style.padding='0';"
        "document.documentElement.style.overflow='hidden';"
        "document.body.style.margin='0';document.body.style.padding='0';document.body.style.overflow='hidden';"
        "var gd=document.getElementById('{plot_id}');gd.style.position='fixed';gd.style.left='0px';gd.style.top='0px';")

fig.write_html("out.html", config={"displayModeBar": False}, post_script=POST)
